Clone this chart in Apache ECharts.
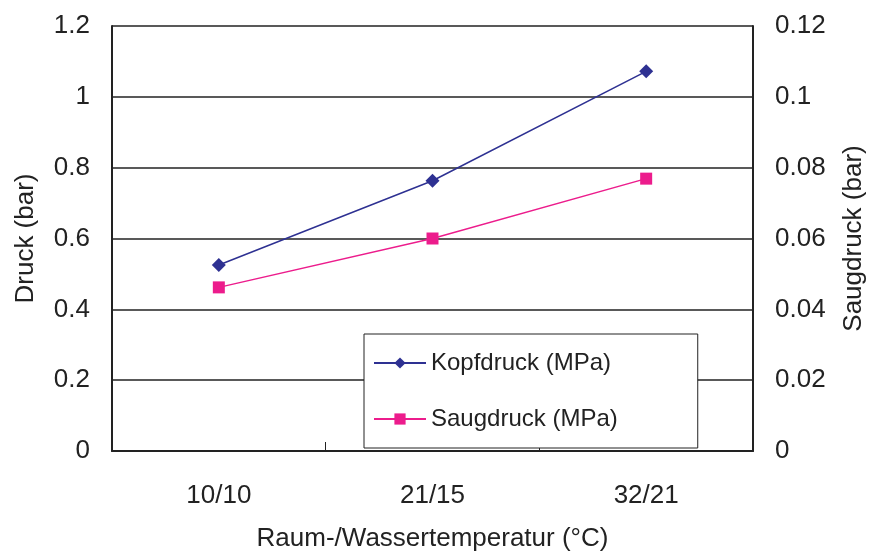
<!DOCTYPE html>
<html>
<head>
<meta charset="utf-8">
<script src="https://cdn.jsdelivr.net/npm/echarts@6/dist/echarts.min.js"></script>
<style>html,body{margin:0;padding:0;background:#fff}#c{width:875px;height:557px}</style>
</head>
<body>
<div id="c"></div>
<script>
const categories = ['10/10', '21/15', '32/21'];
const kopfdruck = [0.525, 0.763, 1.072];      // left axis (Druck, bar)
const saugdruck = [0.0462, 0.060, 0.0769];    // right axis (Saugdruck, bar)
const leftTicks = [0, 0.2, 0.4, 0.6, 0.8, 1, 1.2];
const rightTicks = [0, 0.02, 0.04, 0.06, 0.08, 0.1, 0.12];

const FONT = '"Liberation Sans", Arial, Helvetica, sans-serif';
const chart = echarts.init(document.getElementById('c'));
chart.setOption({
  animation: false,
  textStyle: { fontFamily: FONT },
  grid: { left: 112, right: 119, top: 26, bottom: 102, containLabel: false },
  legend: {
    orient: 'vertical',
    left: 364, top: 334,
    padding: [15, 80, 15, 9],
    itemGap: 28,
    itemWidth: 52, itemHeight: 14,
    backgroundColor: '#fff',
    borderColor: '#222', borderWidth: 1,
    textStyle: { fontSize: 24, color: '#222', fontFamily: FONT, lineHeight: 28 },
    data: ['Kopfdruck (MPa)', 'Saugdruck (MPa)']
  },
  xAxis: {
    type: 'category',
    data: categories,
    boundaryGap: true,
    name: 'Raum-/Wassertemperatur (°C)',
    nameLocation: 'middle',
    nameGap: 75,
    nameTextStyle: { fontSize: 26, color: '#222', fontFamily: FONT },
    axisLine: { lineStyle: { color: '#222', width: 2 } },
    axisTick: { show: true, inside: true, length: 9, lineStyle: { color: '#222', width: 1 } },
    axisLabel: { fontSize: 26, color: '#222', margin: 32, fontFamily: FONT },
    splitLine: { show: false }
  },
  yAxis: [{
    type: 'value',
    min: leftTicks[0], max: leftTicks[leftTicks.length - 1], interval: 0.2,
    name: 'Druck (bar)',
    nameLocation: 'middle',
    nameGap: 73,
    nameTextStyle: { fontSize: 26, color: '#222', fontFamily: FONT },
    axisLine: { show: true, lineStyle: { color: '#222', width: 2 } },
    axisTick: { show: false },
    axisLabel: { fontSize: 26, color: '#222', margin: 22, fontFamily: FONT,
      formatter: v => String(Math.round(v * 10) / 10) },
    splitLine: { show: true, lineStyle: { color: '#222', width: 1.5 } }
  }, {
    type: 'value',
    min: rightTicks[0], max: rightTicks[rightTicks.length - 1], interval: 0.02,
    name: 'Saugdruck (bar)',
    nameLocation: 'middle',
    nameGap: 88,
    nameRotate: 90,
    nameTextStyle: { fontSize: 26, color: '#222', fontFamily: FONT },
    axisLine: { show: true, lineStyle: { color: '#222', width: 2 } },
    axisTick: { show: false },
    axisLabel: { fontSize: 26, color: '#222', margin: 22, fontFamily: FONT,
      formatter: v => String(Math.round(v * 100) / 100) },
    splitLine: { show: false }
  }],
  series: [{
    name: 'Kopfdruck (MPa)',
    type: 'line',
    yAxisIndex: 0,
    data: kopfdruck,
    symbol: 'diamond', symbolSize: 14,
    lineStyle: { color: '#2E3192', width: 1.5 },
    itemStyle: { color: '#2E3192' }
  }, {
    name: 'Saugdruck (MPa)',
    type: 'line',
    yAxisIndex: 1,
    data: saugdruck,
    symbol: 'rect', symbolSize: 12,
    lineStyle: { color: '#EC1C8C', width: 1.5 },
    itemStyle: { color: '#EC1C8C' }
  }]
});
</script>
</body>
</html>
